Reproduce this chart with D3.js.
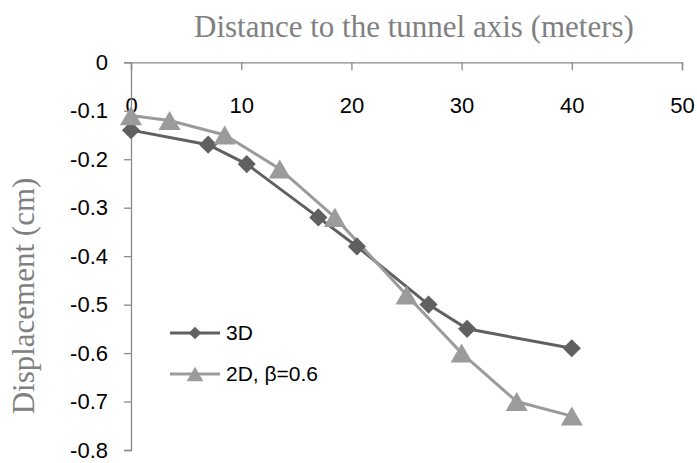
<!DOCTYPE html>
<html>
<head>
<meta charset="utf-8">
<script src="https://cdn.jsdelivr.net/npm/d3@7"></script>
<style>
  body { margin: 0; background: #fff; }
  svg { display: block; }
</style>
</head>
<body>
<svg id="chart" width="697" height="463"></svg>
<script>
// data
var x3D = [0, 7, 10.5, 17, 20.5, 27, 30.5, 40];
var y3D = [-0.14, -0.17, -0.21, -0.32, -0.38, -0.50, -0.55, -0.59];
var x2D = [0, 3.5, 8.5, 13.5, 18.5, 25, 30, 35, 40];
var y2D = [-0.11, -0.12, -0.15, -0.22, -0.32, -0.48, -0.60, -0.70, -0.73];
var xTicks = [0, 10, 20, 30, 40, 50];
var yTicks = [0, -0.1, -0.2, -0.3, -0.4, -0.5, -0.6, -0.7, -0.8];
var seriesNames = ["3D", "2D, \u03b2=0.6"];

var color3D = "#606060";
var color2D = "#9b9b9b";
var axisColor = "#8a8a8a";
var tickFont = "'Liberation Sans', Arial, sans-serif";
var serifFont = "'Liberation Serif', 'Times New Roman', serif";

var svg = d3.select("#chart");

var xScale = d3.scaleLinear().domain([0, 50]).range([131, 682]);
var yScale = d3.scaleLinear().domain([0, -0.8]).range([62.3, 450]);

/* triangle centred on its bounding box, like Excel markers */
var triangle = {
    draw: function(context, size) {
        var w = Math.sqrt(size * 4 / Math.sqrt(3));
        var h = w * Math.sqrt(3) / 2;
        context.moveTo(0, -h / 2);
        context.lineTo(w / 2, h / 2);
        context.lineTo(-w / 2, h / 2);
        context.closePath();
    }
};

/*** Axes ***/
var xAxis = d3.axisBottom(xScale)
    .tickValues(xTicks)
    .tickSize(8)
    .tickPadding(27)
    .tickFormat(d => d.toString());

var yAxis = d3.axisLeft(yScale)
    .tickValues(yTicks)
    .tickSize(7)
    .tickPadding(16)
    .tickFormat(d => d === 0 ? "0" : d.toFixed(1));

var gx = svg.append("g")
    .attr("transform", "translate(0," + yScale(0) + ")")
    .call(xAxis);

var gy = svg.append("g")
    .attr("transform", "translate(" + xScale(0) + ",0)")
    .call(yAxis);

[gx, gy].forEach(function(g) {
    g.select(".domain").attr("stroke", axisColor).attr("stroke-width", 1.3);
    g.selectAll(".tick line").attr("stroke", axisColor).attr("stroke-width", 1.3);
    g.selectAll(".tick text")
        .attr("fill", "#000")
        .style("font-family", tickFont)
        .style("font-size", "22px");
});

/*** Titles ***/
svg.append("text")
    .attr("x", 414)
    .attr("y", 37)
    .attr("text-anchor", "middle")
    .attr("fill", "#808080")
    .style("font-family", serifFont)
    .style("font-size", "31px")
    .text("Distance to the tunnel axis (meters)");

svg.append("text")
    .attr("transform", "translate(34,296) rotate(-90)")
    .attr("text-anchor", "middle")
    .attr("fill", "#808080")
    .style("font-family", serifFont)
    .style("font-size", "31px")
    .text("Displacement (cm)");

/*** Series ***/
var line = d3.line()
    .x(d => xScale(d[0]))
    .y(d => yScale(d[1]));

var data3D = d3.zip(x3D, y3D);
var data2D = d3.zip(x2D, y2D);

svg.append("path")
    .datum(data3D)
    .attr("d", line)
    .attr("fill", "none")
    .attr("stroke", color3D)
    .attr("stroke-width", 3);

svg.append("path")
    .datum(data2D)
    .attr("d", line)
    .attr("fill", "none")
    .attr("stroke", color2D)
    .attr("stroke-width", 3);

var diamond = d3.symbol().type(d3.symbolSquare).size(165);
var tri = d3.symbol().type(triangle).size(210);

svg.selectAll("path.d3d")
    .data(data3D)
    .join("path")
    .attr("class", "d3d")
    .attr("d", diamond)
    .attr("transform", d => "translate(" + xScale(d[0]) + "," + yScale(d[1]) + ") rotate(45)")
    .attr("fill", color3D);

svg.selectAll("path.d2d")
    .data(data2D)
    .join("path")
    .attr("class", "d2d")
    .attr("d", tri)
    .attr("transform", d => "translate(" + xScale(d[0]) + "," + yScale(d[1]) + ")")
    .attr("fill", color2D);

/*** Legend ***/
var legend = svg.append("g").attr("transform", "translate(170,333)");
var legendItems = [
    {name: seriesNames[0], color: color3D, marker: d3.symbol().type(d3.symbolSquare).size(80), rot: 45},
    {name: seriesNames[1], color: color2D, marker: d3.symbol().type(triangle).size(120), rot: 0}
];
var item = legend.selectAll("g.item")
    .data(legendItems)
    .join("g")
    .attr("class", "item")
    .attr("transform", (d, i) => "translate(0," + (i * 41) + ")");

item.append("line")
    .attr("x1", 0).attr("x2", 50)
    .attr("y1", 0).attr("y2", 0)
    .attr("stroke", d => d.color)
    .attr("stroke-width", 3);

item.append("path")
    .attr("d", d => d.marker())
    .attr("transform", d => "translate(25,0) rotate(" + d.rot + ")")
    .attr("fill", d => d.color);

item.append("text")
    .attr("x", 56)
    .attr("y", 0)
    .attr("dy", "0.35em")
    .attr("fill", "#000")
    .style("font-family", tickFont)
    .style("font-size", "21px")
    .text(d => d.name);
</script>
</body>
</html>
